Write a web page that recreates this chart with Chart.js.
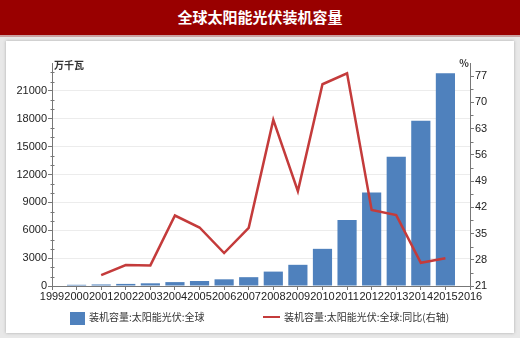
<!DOCTYPE html>
<html><head><meta charset="utf-8">
<script src="https://cdn.jsdelivr.net/npm/chart.js@4/dist/chart.umd.min.js"></script>
<style>
html,body{margin:0;padding:0;width:520px;height:338px;overflow:hidden;background:#e8e8e8;}
#title{position:absolute;left:0;top:0;width:520px;height:35px;background:#990000;color:#fff;font:bold 15px "Noto Sans CJK SC",sans-serif;text-align:center;line-height:33px;border-bottom:2px solid #c9a0a0;}
#panel{position:absolute;left:6px;top:41px;width:508px;height:292px;background:#fff;box-shadow:0 0 3px #aaa;}
#c{position:absolute;left:0;top:0;}
.lg{position:absolute;top:310px;font:10px "Noto Sans CJK SC",sans-serif;color:#333;line-height:14px;white-space:nowrap;}
.sw{display:inline-block;vertical-align:middle;margin-right:4px;}
</style></head>
<body>
<div id="title">全球太阳能光伏装机容量</div>
<div id="panel"></div>
<canvas id="c" width="520" height="338"></canvas>
<div class="lg" style="left:70px;"><span class="sw" style="width:15px;height:13px;background:#4f81bd;"></span>装机容量:太阳能光伏:全球</div>
<div class="lg" style="left:263px;"><span class="sw" style="width:17px;height:2px;background:#c43b3b;margin-top:-2px;"></span>装机容量:太阳能光伏:全球:同比(右轴)</div>
<script>
const years = ['1999','2000','2001','2002','2003','2004','2005','2006','2007','2008','2009','2010','2011','2012','2013','2014','2015','2016'];
const capacity = [null,130,165,225,290,420,540,720,950,1550,2280,4000,7100,10050,13900,17780,22900,null];
const yoy = [null,null,23.9,26.6,26.5,39.8,36.6,29.8,36.5,65.3,46.3,74.8,77.7,41.3,39.9,27.2,28.4,null];
const leftTicks = [0,3000,6000,9000,12000,15000,18000,21000];
const rightTicks = [21,28,35,42,49,56,63,70,77];
const seriesNames = ['装机容量:太阳能光伏:全球','装机容量:太阳能光伏:全球:同比(右轴)'];
const unitLeft = '万千瓦', unitRight = '%';

const extras = {
  id:'extras',
  afterDraw(chart){
    const ctx = chart.ctx;
    const y = chart.scales.y, y1 = chart.scales.y1;
    ctx.save();
    ctx.strokeStyle = '#777'; ctx.lineWidth = 1;
    const lx = Math.round(y.right)+0.5;
    for (let v = 1000; v < 24000; v += 1000) {
      if (v % 3000 === 0) continue;
      const py = Math.round(y.getPixelForValue(v))+0.5;
      ctx.beginPath(); ctx.moveTo(lx-2, py); ctx.lineTo(lx+2, py); ctx.stroke();
    }
    const rx = Math.round(y1.left)+0.5;
    for (let i = 0; i < rightTicks.length; i++) {
      const v = rightTicks[i] + 3.5;
      if (v > y1.max) break;
      const py = Math.round(y1.getPixelForValue(v))+0.5;
      ctx.beginPath(); ctx.moveTo(rx, py); ctx.lineTo(rx+3, py); ctx.stroke();
    }
    ctx.fillStyle = '#333';
    ctx.font = 'bold 10px "Noto Sans CJK SC", sans-serif';
    ctx.textBaseline = 'middle';
    ctx.textAlign = 'left';
    ctx.fillText(unitLeft, y.right + 2, chart.chartArea.top + 2);
    ctx.textAlign = 'right';
    ctx.fillText(unitRight, y1.left - 1, chart.chartArea.top);
    ctx.restore();
  }
};

new Chart(document.getElementById('c'), {
  data: {
    labels: years,
    datasets: [
      {type:'line', label: seriesNames[1], data: yoy, yAxisID:'y1', borderColor:'#c43b3b', borderWidth:2.5, pointRadius:0, tension:0, order:0, spanGaps:false},
      {type:'bar', label: seriesNames[0], data: capacity, yAxisID:'y', backgroundColor:'#4f81bd', barPercentage:0.78, categoryPercentage:1, order:1}
    ]
  },
  options: {
    responsive:false, animation:false,
    layout:{padding:{left:0,right:0,top:63,bottom:32}},
    plugins:{legend:{display:false}, tooltip:{enabled:false}},
    scales:{
      x:{type:'category', offset:false,
        grid:{drawOnChartArea:false, drawTicks:true, tickLength:4, color:'#777', offset:false},
        border:{color:'#777'},
        ticks:{autoSkip:false, maxRotation:0, minRotation:0, padding:0, color:'#222', font:{family:'Liberation Sans Narrow, Liberation Sans', size:11}},
        afterFit(s){ s.height = 20; }
      },
      y:{position:'left', min:0, max:24000,
        afterBuildTicks(s){ s.ticks = leftTicks.map(v=>({value:v})); },
        grid:{color:'#ececec', tickLength:4, tickColor:'#777'},
        border:{color:'#777'},
        ticks:{padding:1, color:'#222', font:{family:'Liberation Sans', size:11}, callback:(v)=>String(v)},
        afterFit(s){ s.width = 52; }
      },
      y1:{position:'right', min:21, max:80.47,
        afterBuildTicks(s){ s.ticks = rightTicks.map(v=>({value:v})); },
        grid:{drawOnChartArea:false, tickLength:4, color:'#777'},
        border:{color:'#777'},
        ticks:{padding:1, color:'#222', font:{family:'Liberation Sans', size:11}, callback:(v)=>String(v)},
        afterFit(s){ s.width = 50; }
      }
    }
  },
  plugins:[extras]
});
</script>
</body></html>
